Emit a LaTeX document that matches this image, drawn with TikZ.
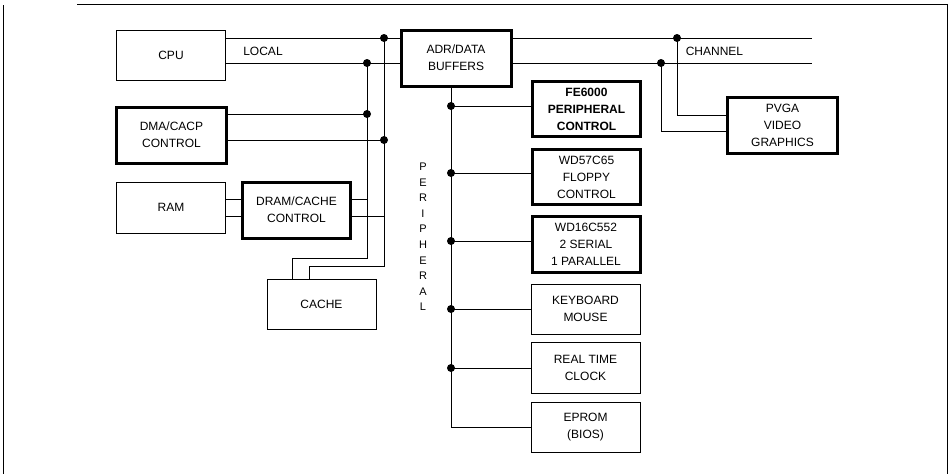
\documentclass[tikz,border=0pt]{standalone}
\usepackage{fontspec}
\setmainfont{Liberation Sans}
\usetikzlibrary{positioning,calc}
\tikzset{
  chipbox/.style   = {rectangle, draw, line width=0.7pt, minimum width=109pt, minimum height=50pt,
                       align=center, inner sep=1pt, font=\fontsize{12}{17}\selectfont},
  chipthick/.style = {chipbox, line width=3pt, minimum width=108pt, minimum height=56pt},
  busdot/.style    = {circle, fill, inner sep=0pt, minimum size=8pt},
  busline/.style   = {line width=0.7pt},
  buslabel/.style  = {font=\fontsize{12}{17}\selectfont, inner sep=0pt, align=center},
}

\begin{document}
\begin{tikzpicture}[x=1pt,y=-1pt]
\useasboundingbox (0,0) rectangle (951,474);
% page frame
\draw[line width=1pt] (77,4) -- (947,4) -- (947,474);
\draw[line width=1pt] (3,5) -- (3,474);

% local side
\node[chipbox]   (cpu)   at (171,55)    {CPU};
\node[chipthick, minimum width=110pt] (adr) at (456,58) {ADR/DATA\\BUFFERS};
\node[chipthick, minimum width=110pt] (dma) at (171.5,135) {DMA/CACP\\CONTROL};
\node[chipbox, minimum height=51pt] (ram) at (171,207.5) {RAM};
\node[chipthick] (dram)  at (296.5,210) {DRAM/CACHE\\CONTROL};
\node[chipbox]   (cache) at (321.5,304) {CACHE};

% peripheral column
\node[chipthick, minimum height=55pt, font=\fontsize{12}{17}\selectfont\bfseries] (fe) at (586.5,109) {FE6000\\PERIPHERAL\\CONTROL};
\node[chipthick, minimum height=55pt] (floppy) at (586.5,177) {WD57C65\\FLOPPY\\CONTROL};
\node[chipthick] (serial) at (586,244.5) {WD16C552\\2 SERIAL\\1 PARALLEL};
\node[chipbox]   (kbd)    at (585.5,309)   {KEYBOARD\\MOUSE};
\node[chipbox, minimum height=51pt] (rtc) at (585.5,367.5) {REAL TIME\\CLOCK};
\node[chipbox]   (eprom)  at (585.5,427)   {EPROM\\(BIOS)};

% channel side
\node[chipthick, minimum width=110pt] (pvga) at (782.5,125.5) {PVGA\\VIDEO\\GRAPHICS};

% bus labels
\node[buslabel] (local)   at (263,51)   {LOCAL};
\node[buslabel] (channel) at (714.5,51) {CHANNEL};
\node[buslabel, font=\fontsize{11}{15.6}\selectfont] (perlbl) at (423,237) {P\\E\\R\\I\\P\\H\\E\\R\\A\\L};

% junction dots
\node[busdot] (l1) at (384,38)  {};
\node[busdot] (l2) at (367,63)  {};
\node[busdot] (l3) at (367,114) {};
\node[busdot] (l4) at (384,140) {};
\node[busdot] (c1) at (677,38)  {};
\node[busdot] (c2) at (661,63)  {};
\foreach \n/\yy in {p1/106, p2/173, p3/241, p4/309, p5/368}
  \node[busdot] (\n) at (451,\yy) {};
\coordinate (p6)    at (451,427);
\coordinate (c1end) at (812,38);
\coordinate (c2end) at (812,63);
\coordinate (q1)    at (367,258);
\coordinate (q2)    at (384,266);

% local bus
\draw[busline] (cpu.east |- l1) -- (adr.west |- l1);
\draw[busline] (cpu.east |- l2) -- (adr.west |- l2);
\draw[busline] (dma.east |- l3) -- (l3.center);
\draw[busline] (dma.east |- l4) -- (l4.center);
\draw[busline] (l2.center) -- (q1) -| ([xshift=-29.5pt]cache.north);
\draw[busline] (l1.center) -- (q2) -| ([xshift=-12.5pt]cache.north);
\draw[busline] (ram.east |- 0,199) -- (dram.west |- 0,199);
\draw[busline] (ram.east |- 0,216) -- (dram.west |- 0,216);
\draw[busline] (dram.east |- 0,199) -- (l2 |- 0,199);
\draw[busline] (dram.east |- 0,216) -- (l1 |- 0,216);

% channel bus
\draw[busline] (adr.east |- c1) -- (c1end);
\draw[busline] (adr.east |- c2) -- (c2end);
\draw[busline] (c1.center) |- (pvga.west |- 0,115);
\draw[busline] (c2.center) |- (pvga.west |- 0,131);

% peripheral bus
\draw[busline] (adr.south -| p1) -- (p6) -- (eprom.west |- p6);
\foreach \d/\b in {p1/fe, p2/floppy, p3/serial, p4/kbd, p5/rtc}
  \draw[busline] (\d.center) -- (\b.west |- \d);
\end{tikzpicture}
\end{document}
